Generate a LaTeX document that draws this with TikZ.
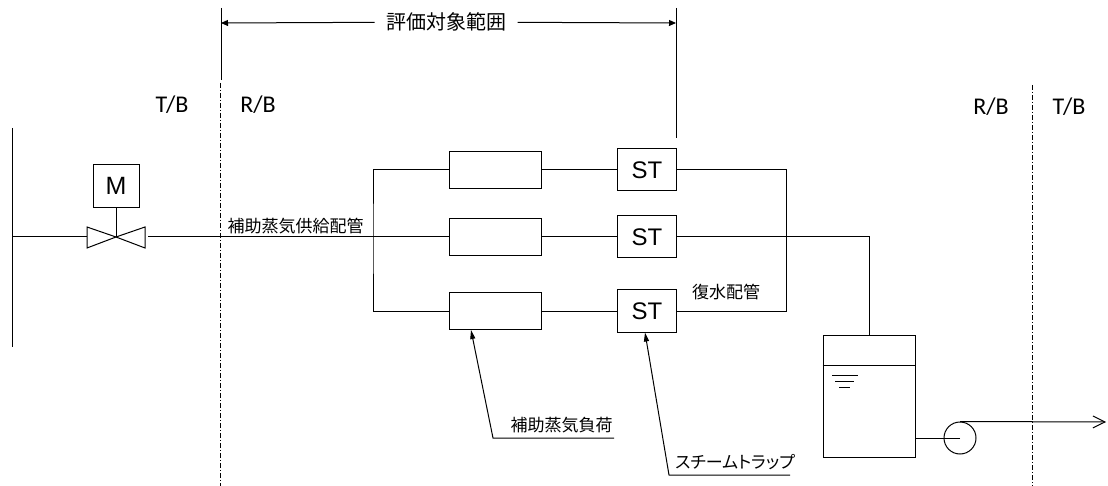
\documentclass[tikz,border=0pt]{standalone}
\usepackage{fontspec}
\setmainfont{Liberation Sans}
\newfontfamily\jpfont{Noto Sans CJK JP}
\newfontfamily\jpkana[RawFeature=+palt]{Noto Sans CJK JP}
\newfontfamily\bldfont{Carlito}
\usetikzlibrary{arrows.meta}
\begin{document}
\begin{tikzpicture}[x=1pt,y=-1pt,line width=1pt]
    \tikzstyle{every node}+=[inner sep=0pt]
    \tikzstyle{load}=[draw=black, minimum width=92pt, minimum height=37pt]
    \tikzstyle{trap}=[draw=black, minimum width=59pt, minimum height=42pt, font=\fontsize{24}{28}\selectfont]
    \tikzstyle{jptext}=[font=\jpfont\fontsize{17}{20}\selectfont]
    \tikzstyle{bldg}=[font=\bldfont\fontsize{24}{28}\selectfont]
    \tikzstyle{border}=[black, dash pattern=on 5pt off 2pt on 1pt off 2pt]
    \tikzstyle{leader}=[black, -{Triangle[length=9pt,width=5pt]}]
    \tikzstyle{dim}=[black, -{Triangle[length=7pt,width=6pt]}]
    \useasboundingbox (0,0) rectangle (1108,486);
    \node [draw=black, minimum width=46pt, minimum height=43pt, font=\fontsize{25}{28}\selectfont] (motor) at (116,186) {M};
    \node [load] (load1) at (495,170) {};
    \node [load] (load2) at (495,237) {};
    \node [load] (load3) at (495,311) {};
    \node [trap] (st1) at (647,170) {ST};
    \node [trap] (st2) at (647,237) {ST};
    \node [trap] (st3) at (647,311) {ST};
    \node [draw=black, minimum width=92pt, minimum height=122pt] (tank) at (869,396) {};
    \node [draw=black, circle, minimum size=32pt] (pump) at (960,438) {};
    \coordinate (hdr) at (12,237);
    \coordinate (valve) at (116,237);
    \coordinate (vout) at (148,237);
    \coordinate (split) at (373,237);
    \coordinate (merge) at (786,237);
    \coordinate (outlet) at (1106,422);
    \coordinate (rngl) at (221,23);
    \coordinate (rngr) at (676,23);
    \coordinate (loadend) at (614,438);
    \coordinate (loadfoot) at (493,438);
    \coordinate (trapend) at (790,475);
    \coordinate (trapfoot) at (669,475);
    \draw [black] (12,128) -- (12,347);
    \draw [black] (hdr) -- (87,237);
    \draw [black] (87,227) -- (87,248) -- (valve) -- cycle;
    \draw [black] (145,227) -- (145,248) -- (valve) -- cycle;
    \draw [black] (motor) -- (valve);
    \draw [black] (vout) -- (load2);
    \draw [black] (load1) -| (split) |- (load3);
    \draw [black] (load1) -- (st1);
    \draw [black] (load2) -- (st2);
    \draw [black] (load3) -- (st3);
    \draw [black] (st1) -| (merge) |- (st3);
    \draw [black] (st2) -| (tank);
    \draw [black] ([yshift=-31pt]tank.north west) -- ([yshift=-31pt]tank.north east);
    \draw [black] (832,375) -- (858,375);
    \draw [black] (835,381) -- (854,381);
    \draw [black] (839,387) -- (850,387);
    \draw [black] (pump.center) -- (pump.center -| tank.east);
    \draw [black, -{Straight Barb[length=12pt,width=12pt]}] (pump.north) -- (outlet);
    \node [jptext, font=\jpfont\fontsize{20}{24}\selectfont, inner xsep=11pt] (range) at (446,22) {評価対象範囲};
    \draw [dim] (range) -- (rngl);
    \draw [dim] (range) -- (rngr);
    \draw [black] (221,8) -- (221,80);
    \draw [black] (676,8) -- (676,138);
    \draw [border] (220,83) -- (220,486);
    \draw [border] (1032,85) -- (1032,486);
    \node [bldg] (tb1) at (172,105) {T/B};
    \node [bldg] (rb1) at (258,105) {R/B};
    \node [bldg] (rb2) at (991,107) {R/B};
    \node [bldg] (tb2) at (1069,107) {T/B};
    \node [jptext, anchor=west] (supply) at (227,226) {補助蒸気供給配管};
    \node [jptext] (drain) at (726,292) {復水配管};
    \node [jptext, anchor=east] (loadlbl) at (613,425) {補助蒸気負荷};
    \node [jptext, font=\jpkana\fontsize{17}{20}\selectfont] (traplbl) at (735,462) {スチームトラップ};
    \draw [leader] (loadend) -- (loadfoot) -- ([xshift=-24pt]load3.south);
    \draw [leader] (trapend) -- (trapfoot) -- ([xshift=-2pt]st3.south);
\end{tikzpicture}
\end{document}
